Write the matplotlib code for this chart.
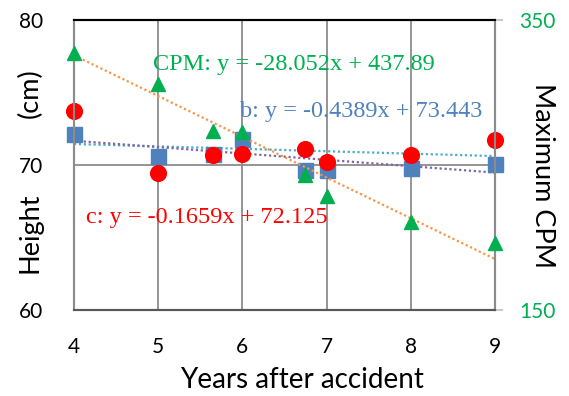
import matplotlib
matplotlib.use("Agg")
import matplotlib.pyplot as plt
import numpy as np

# ---- data ----
years = [4, 5, 5.65, 6, 6.74, 7, 8, 9]
height_c = [73.7, 69.45, 70.7, 70.8, 71.1, 70.25, 70.7, 71.75]
height_b = [72.15, 70.65, 70.75, 71.8, 69.7, 69.7, 69.8, 70.1]
cpm = [327, 306, 273.5, 273, 243.5, 228.5, 211, 196.5]

cpm_fit = (-28.052, 437.89)
b_fit = (-0.4389, 73.443)
c_fit = (-0.1659, 72.125)

x_ticks = [4, 5, 6, 7, 8, 9]
left_ticks = [60, 70, 80]
right_ticks = [150, 350]

labels = {
    "cpm": "CPM: y = -28.052x + 437.89",
    "b": "b: y = -0.4389x + 73.443",
    "c": "c: y = -0.1659x + 72.125",
}

# ---- colours ----
RED = "#ff0000"
BLUE = "#4f81bd"
GREEN = "#00b050"
ORANGE = "#f79646"
PURPLE = "#8064a2"
TEAL = "#4bacc6"
GRID = "#8c8c8c"

plt.rcParams['font.family'] = ['Lato', 'DejaVu Sans']

fig = plt.figure(figsize=(5.69, 3.96), dpi=100)
ax = fig.add_axes([0.130, 0.216, 0.740, 0.7335])
ax2 = ax.twinx()

ax.set_xlim(4, 9)
ax.set_ylim(60, 80)
ax2.set_ylim(150, 350)

# grid
for xv in x_ticks:
    ax.axvline(xv, color=GRID, lw=1.3, zorder=0.5)
ax.axhline(70, color=GRID, lw=1.3, zorder=0.5)

xs = np.array([4, 9])
ax.plot(xs, c_fit[0] * xs + c_fit[1], ls=(0, (1, 1.2)), color=TEAL, lw=1.6, zorder=1)
ax.plot(xs, b_fit[0] * xs + b_fit[1], ls=(0, (1, 1.2)), color=PURPLE, lw=1.6, zorder=1)

ax.plot(years, height_b, ls='none', marker='s', ms=10.8, color=BLUE, clip_on=False, zorder=3)
ax.plot(years, height_c, ls='none', marker='o', ms=11.3, color=RED, clip_on=False, zorder=4)

ax2.plot(xs, cpm_fit[0] * xs + cpm_fit[1], ls=(0, (1, 1.2)), color=ORANGE, lw=1.6, zorder=1)
ax2.plot(years, cpm, ls='none', marker='^', ms=10.5, color=GREEN, clip_on=False, zorder=3)

# annotations
tfont = dict(family=['Liberation Serif', 'DejaVu Serif'], fontsize=17.5)
ax.text(4.94, 76.56, labels["cpm"], color=GREEN, va='baseline', ha='left', zorder=5, **tfont)
ax.text(5.97, 73.30, labels["b"], color=BLUE, va='baseline', ha='left', zorder=5, **tfont)
ax.text(4.14, 66.0, labels["c"], color=RED, va='baseline', ha='left', zorder=5, **tfont)

# ticks
ax.set_xticks(x_ticks)
ax.set_yticks(left_ticks)
ax.tick_params(axis='both', length=0, labelsize=15, colors='black')
ax.tick_params(axis='x', pad=19)
ax.tick_params(axis='y', pad=22)
ax2.set_yticks(right_ticks)
ax2.tick_params(axis='y', length=5.5, width=1.2, color='#bfbfbf', direction='out',
                labelsize=15, labelcolor=GREEN, pad=12)

# spines
for a in (ax, ax2):
    a.spines['top'].set_color('black')
    a.spines['top'].set_linewidth(1.5)
    a.spines['bottom'].set_color('#595959')
    a.spines['bottom'].set_linewidth(1.5)
    a.spines['left'].set_color(GRID)
    a.spines['left'].set_linewidth(1.5)
    a.spines['right'].set_color(GRID)
    a.spines['right'].set_linewidth(1.5)

# axis titles
fig.text(0.531, 0.040, "Years after accident", fontsize=20, ha='center', va='center')
fig.text(0.0527, 0.766, "(cm)", fontsize=19.5, rotation=90,
         ha='center', va='center', rotation_mode='anchor')
fig.text(0.0527, 0.413, "Height", fontsize=19.5, rotation=90,
         ha='center', va='center', rotation_mode='anchor')
fig.text(0.954, 0.556, "Maximum CPM", fontsize=19.5, rotation=-90,
         ha='center', va='center', rotation_mode='anchor')

fig.savefig("out.png", dpi=100)
